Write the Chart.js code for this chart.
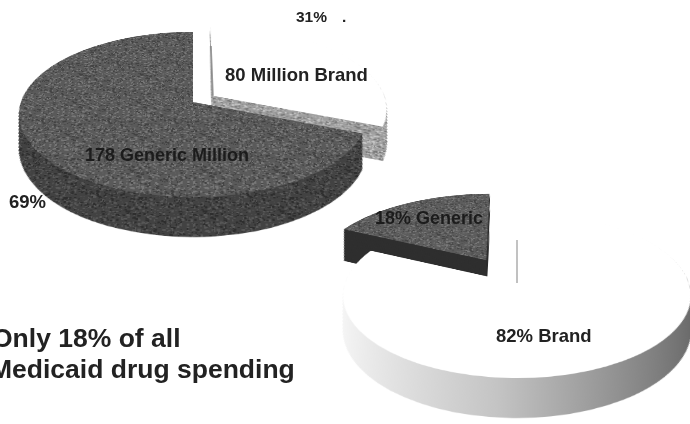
<!DOCTYPE html>
<html lang="en">

<head>
  <meta charset="UTF-8">
  <title>Medicaid drug volume and spending</title>
  <script src="https://cdn.jsdelivr.net/npm/chart.js"></script>
  <style>
    html, body { margin: 0; height: 100%; background: #fff; overflow: hidden; }
    body { position: relative; width: 690px; height: 424px; font-family: "Liberation Sans", Arial, sans-serif; font-weight: bold; color: #222; }
    /* both pies lie on a plane tipped away from the viewer */
    canvas { position: absolute; transform: perspective(1005px) rotateX(62deg); transform-origin: 50% 50%; }
    #volumePie { left: -127px; top: -218px; }
    #spendingPie { left: 197px; top: -37px; }
    .label { position: absolute; white-space: nowrap; font-size: 18.5px; line-height: 1; }
    .headline { font-size: 26.5px; }
  </style>
</head>

<body>
  <canvas id="volumePie" width="640" height="640"></canvas>
  <canvas id="spendingPie" width="640" height="640"></canvas>

  <div class="label" style="left:296px;top:9px;font-size:15.5px">31%</div>
  <div class="label" style="left:342px;top:9px;font-size:15.5px">.</div>
  <div class="label" style="left:225px;top:66px">80 Million Brand</div>
  <div class="label" style="left:85px;top:146px;font-size:18px;color:#1c1c1c">178 Generic Million</div>
  <div class="label" style="left:9px;top:193px">69%</div>
  <div class="label" style="left:375px;top:209px;font-size:18px;color:#1c1c1c">18% Generic</div>
  <div class="label" style="left:496px;top:327px">82% Brand</div>
  <div class="label headline" style="left:-8px;top:325px">Only 18% of all</div>
  <div class="label headline" style="left:-10px;top:356px">Medicaid drug spending</div>

  <script>
    // Left pie: share of prescriptions
    const volumeLabels = ['Brand', 'Generic'];
    const volumeValues = [31, 69];
    // Right pie: share of spending
    const spendingLabels = ['Generic', 'Brand'];
    const spendingValues = [18, 82];

    // how much nearer parts of the tipped plane grow, per pixel towards the viewer
    const planeGrowth = Math.sin(62 * Math.PI / 180) / 1005;

    // mottled print texture for the grey fills
    function speckle(base, dark, light) {
      const size = 64;
      const tile = document.createElement('canvas');
      tile.width = tile.height = size;
      const t = tile.getContext('2d');
      t.fillStyle = base;
      t.fillRect(0, 0, size, size);
      let seed = 7;
      const next = () => (seed = (seed * 1103515245 + 12345) & 0x7fffffff) / 0x7fffffff;
      for (let i = 0; i < 650; i++) {
        t.fillStyle = next() < 0.5 ? dark : light;
        t.fillRect(Math.floor(next() * size), Math.floor(next() * size), 1 + Math.floor(next() * 2), 1 + Math.floor(next() * 3));
      }
      return t.createPattern(tile, 'repeat');
    }

    // Extruded pie: all side walls go down first, then the top faces,
    // so a pale face can cut into the wall of the slice next to it.
    const extrudedPie = {
      id: 'extrudedPie',
      beforeDatasetDraw(chart, args, opts) {
        const ctx = chart.ctx;
        const arcs = chart.getDatasetMeta(0).data;

        opts.wallOrder.forEach(i => {
          const arc = arcs[i];
          const faceOptions = arc.options;
          const fill = opts.wall[i](ctx, arc);
          arc.options = { ...faceOptions, backgroundColor: fill };
          for (let lift = opts.depth[i]; lift > 0; lift--) {
            // shrink each layer so the wall stays upright under the perspective
            const shrink = 1 - lift * planeGrowth;
            // keep the texture still while the slice moves down
            if (fill.setTransform) {
              fill.setTransform(new DOMMatrix()
                .translate(arc.x, arc.y).scale(1 / shrink).translate(-arc.x, -arc.y - lift));
            }
            ctx.save();
            ctx.translate(arc.x, arc.y + lift);
            ctx.scale(shrink, shrink);
            ctx.translate(-arc.x, -arc.y);
            arc.draw(ctx);
            ctx.restore();
          }
          arc.options = faceOptions;
        });

        opts.faceOrder.forEach(i => arcs[i].draw(ctx));

        // thin seam running out along the 12 o'clock cut
        if (opts.seam) {
          const arc = arcs[opts.seam.slice];
          const mid = (arc.startAngle + arc.endAngle) / 2;
          // ArcElement moves a slice by a quarter of its offset option
          const apexX = arc.x + Math.cos(mid) * arc.options.offset / 4;
          const apexY = arc.y + Math.sin(mid) * arc.options.offset / 4;
          ctx.beginPath();
          ctx.moveTo(apexX, apexY);
          ctx.lineTo(apexX, apexY - arc.outerRadius * opts.seam.length);
          ctx.strokeStyle = opts.seam.color;
          ctx.lineWidth = 2;
          ctx.stroke();
        }
        return false;
      }
    };

    const baseOptions = {
      responsive: false,
      animation: false,
      events: [],
      layout: { padding: 0 },
      plugins: { legend: { display: false }, tooltip: { enabled: false } }
    };

    new Chart(document.getElementById('volumePie'), {
      type: 'pie',
      plugins: [extrudedPie],
      data: {
        labels: volumeLabels,
        datasets: [{
          data: volumeValues,
          backgroundColor: ['#ffffff', speckle('#5a5a5a', '#424242', '#787878')],
          borderWidth: 0,
          offset: [96, 0]
        }]
      },
      options: {
        ...baseOptions,
        radius: 172,
        plugins: {
          ...baseOptions.plugins,
          extrudedPie: {
            wallOrder: [0, 1],
            faceOrder: [0, 1],
            depth: [66, 68],
            wall: [() => speckle('#a0a0a0', '#787878', '#c8c8c8'), () => speckle('#424242', '#2e2e2e', '#585858')],
            seam: { slice: 0, length: 0.7, color: '#8a8a8a' }
          }
        }
      }
    });

    new Chart(document.getElementById('spendingPie'), {
      type: 'pie',
      plugins: [extrudedPie],
      data: {
        labels: spendingLabels,
        datasets: [{
          data: spendingValues,
          backgroundColor: [speckle('#5c5c5c', '#444444', '#7c7c7c'), '#ffffff'],
          borderWidth: 0,
          offset: [240, 0]
        }]
      },
      options: {
        ...baseOptions,
        radius: 172,
        rotation: -spendingValues[0] * 3.6,
        plugins: {
          ...baseOptions.plugins,
          extrudedPie: {
            wallOrder: [1, 0],
            faceOrder: [1, 0],
            depth: [70, 68],
            wall: [() => '#2f2f2f', (ctx, arc) => {
              const g = ctx.createLinearGradient(arc.x - arc.outerRadius, 0, arc.x + arc.outerRadius, 0);
              g.addColorStop(0, '#f6f6f6');
              g.addColorStop(0.45, '#c4c4c4');
              g.addColorStop(1, '#686868');
              return g;
            }],
            seam: { slice: 1, length: 0.58, color: '#c0c0c0' }
          }
        }
      }
    });
  </script>
</body>

</html>
